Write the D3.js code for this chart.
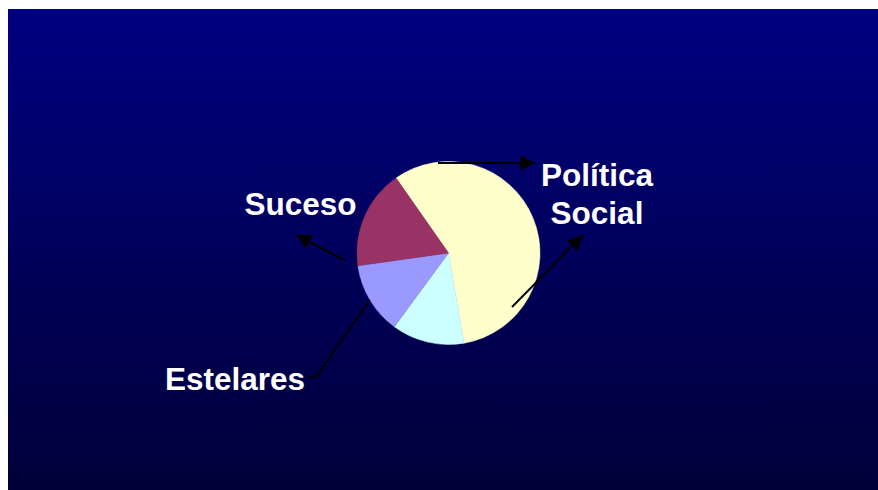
<!DOCTYPE html>
<html>
<head>
<meta charset="utf-8">
<script src="https://cdn.jsdelivr.net/npm/d3@7"></script>
<style>
  html, body { margin: 0; padding: 0; background: #fff; }
  svg { display: block; }
</style>
</head>
<body>
<div id="chart"></div>
<script>
// Slice data (clockwise from the top, starting at the yellow slice)
const categories = ["Política Social", "Otros", "Estelares", "Suceso"];
const shares = [57, 12.8, 12.7, 17.5];
const sliceColors = ["#FFFFCC", "#CCFFFF", "#9999FF", "#993366"];

const width = 878, height = 490;
const cx = 448.5, cy = 253, radius = 91.5;

const svg = d3.select("#chart").append("svg")
    .attr("width", width)
    .attr("height", height);

// Background gradient panel
const defs = svg.append("defs");
const grad = defs.append("linearGradient")
    .attr("id", "bg")
    .attr("x1", 0).attr("y1", 0).attr("x2", 0).attr("y2", 1);
grad.append("stop").attr("offset", "0%").attr("stop-color", "#000080");
grad.append("stop").attr("offset", "100%").attr("stop-color", "#000038");

svg.append("rect")
    .attr("x", 8).attr("y", 9)
    .attr("width", width - 8).attr("height", height - 9)
    .attr("fill", "url(#bg)");

defs.append("marker")
    .attr("id", "arrow")
    .attr("viewBox", "0 0 10 10")
    .attr("refX", 10).attr("refY", 5)
    .attr("markerUnits", "userSpaceOnUse")
    .attr("markerWidth", 17).attr("markerHeight", 15)
    .attr("orient", "auto")
    .append("path")
    .attr("d", "M0,0 L10,5 L0,10 Z")
    .attr("fill", "#000");

// Pie
const pie = d3.pie()
    .sort(null)
    .value(d => d)
    .startAngle(-35 * Math.PI / 180)
    .endAngle(325 * Math.PI / 180);

const arc = d3.arc().innerRadius(0).outerRadius(radius);

const g = svg.append("g").attr("transform", `translate(${cx},${cy})`);
g.selectAll("path")
    .data(pie(shares))
    .enter()
    .append("path")
    .attr("d", arc)
    .attr("fill", (d, i) => sliceColors[i])
    .attr("stroke", (d, i) => sliceColors[i])
    .attr("stroke-width", 0.5);

// Leader lines / arrows
const lines = svg.append("g")
    .attr("stroke", "#000")
    .attr("stroke-width", 2)
    .attr("fill", "none");

lines.append("line")
    .attr("x1", 438).attr("y1", 163).attr("x2", 535).attr("y2", 163)
    .attr("marker-end", "url(#arrow)");
lines.append("line")
    .attr("x1", 512).attr("y1", 307).attr("x2", 583).attr("y2", 235)
    .attr("marker-end", "url(#arrow)");
lines.append("line")
    .attr("x1", 344).attr("y1", 260).attr("x2", 296).attr("y2", 235)
    .attr("marker-end", "url(#arrow)");
lines.append("polyline")
    .attr("points", "370,300 316,377 310,377");

// Labels
const labelFont = "'Liberation Sans', Arial, sans-serif";
const labels = svg.append("g")
    .attr("fill", "#fff")
    .attr("font-family", labelFont)
    .attr("font-weight", "bold")
    .attr("font-size", "31.5px")
    .attr("text-anchor", "middle");

labels.append("text").attr("x", 597).attr("y", 185.5).text("Política");
labels.append("text").attr("x", 597).attr("y", 223.5).text("Social");
labels.append("text").attr("x", 300.5).attr("y", 214.5).text("Suceso");
labels.append("text").attr("x", 235).attr("y", 389.5).text("Estelares");
</script>
</body>
</html>
